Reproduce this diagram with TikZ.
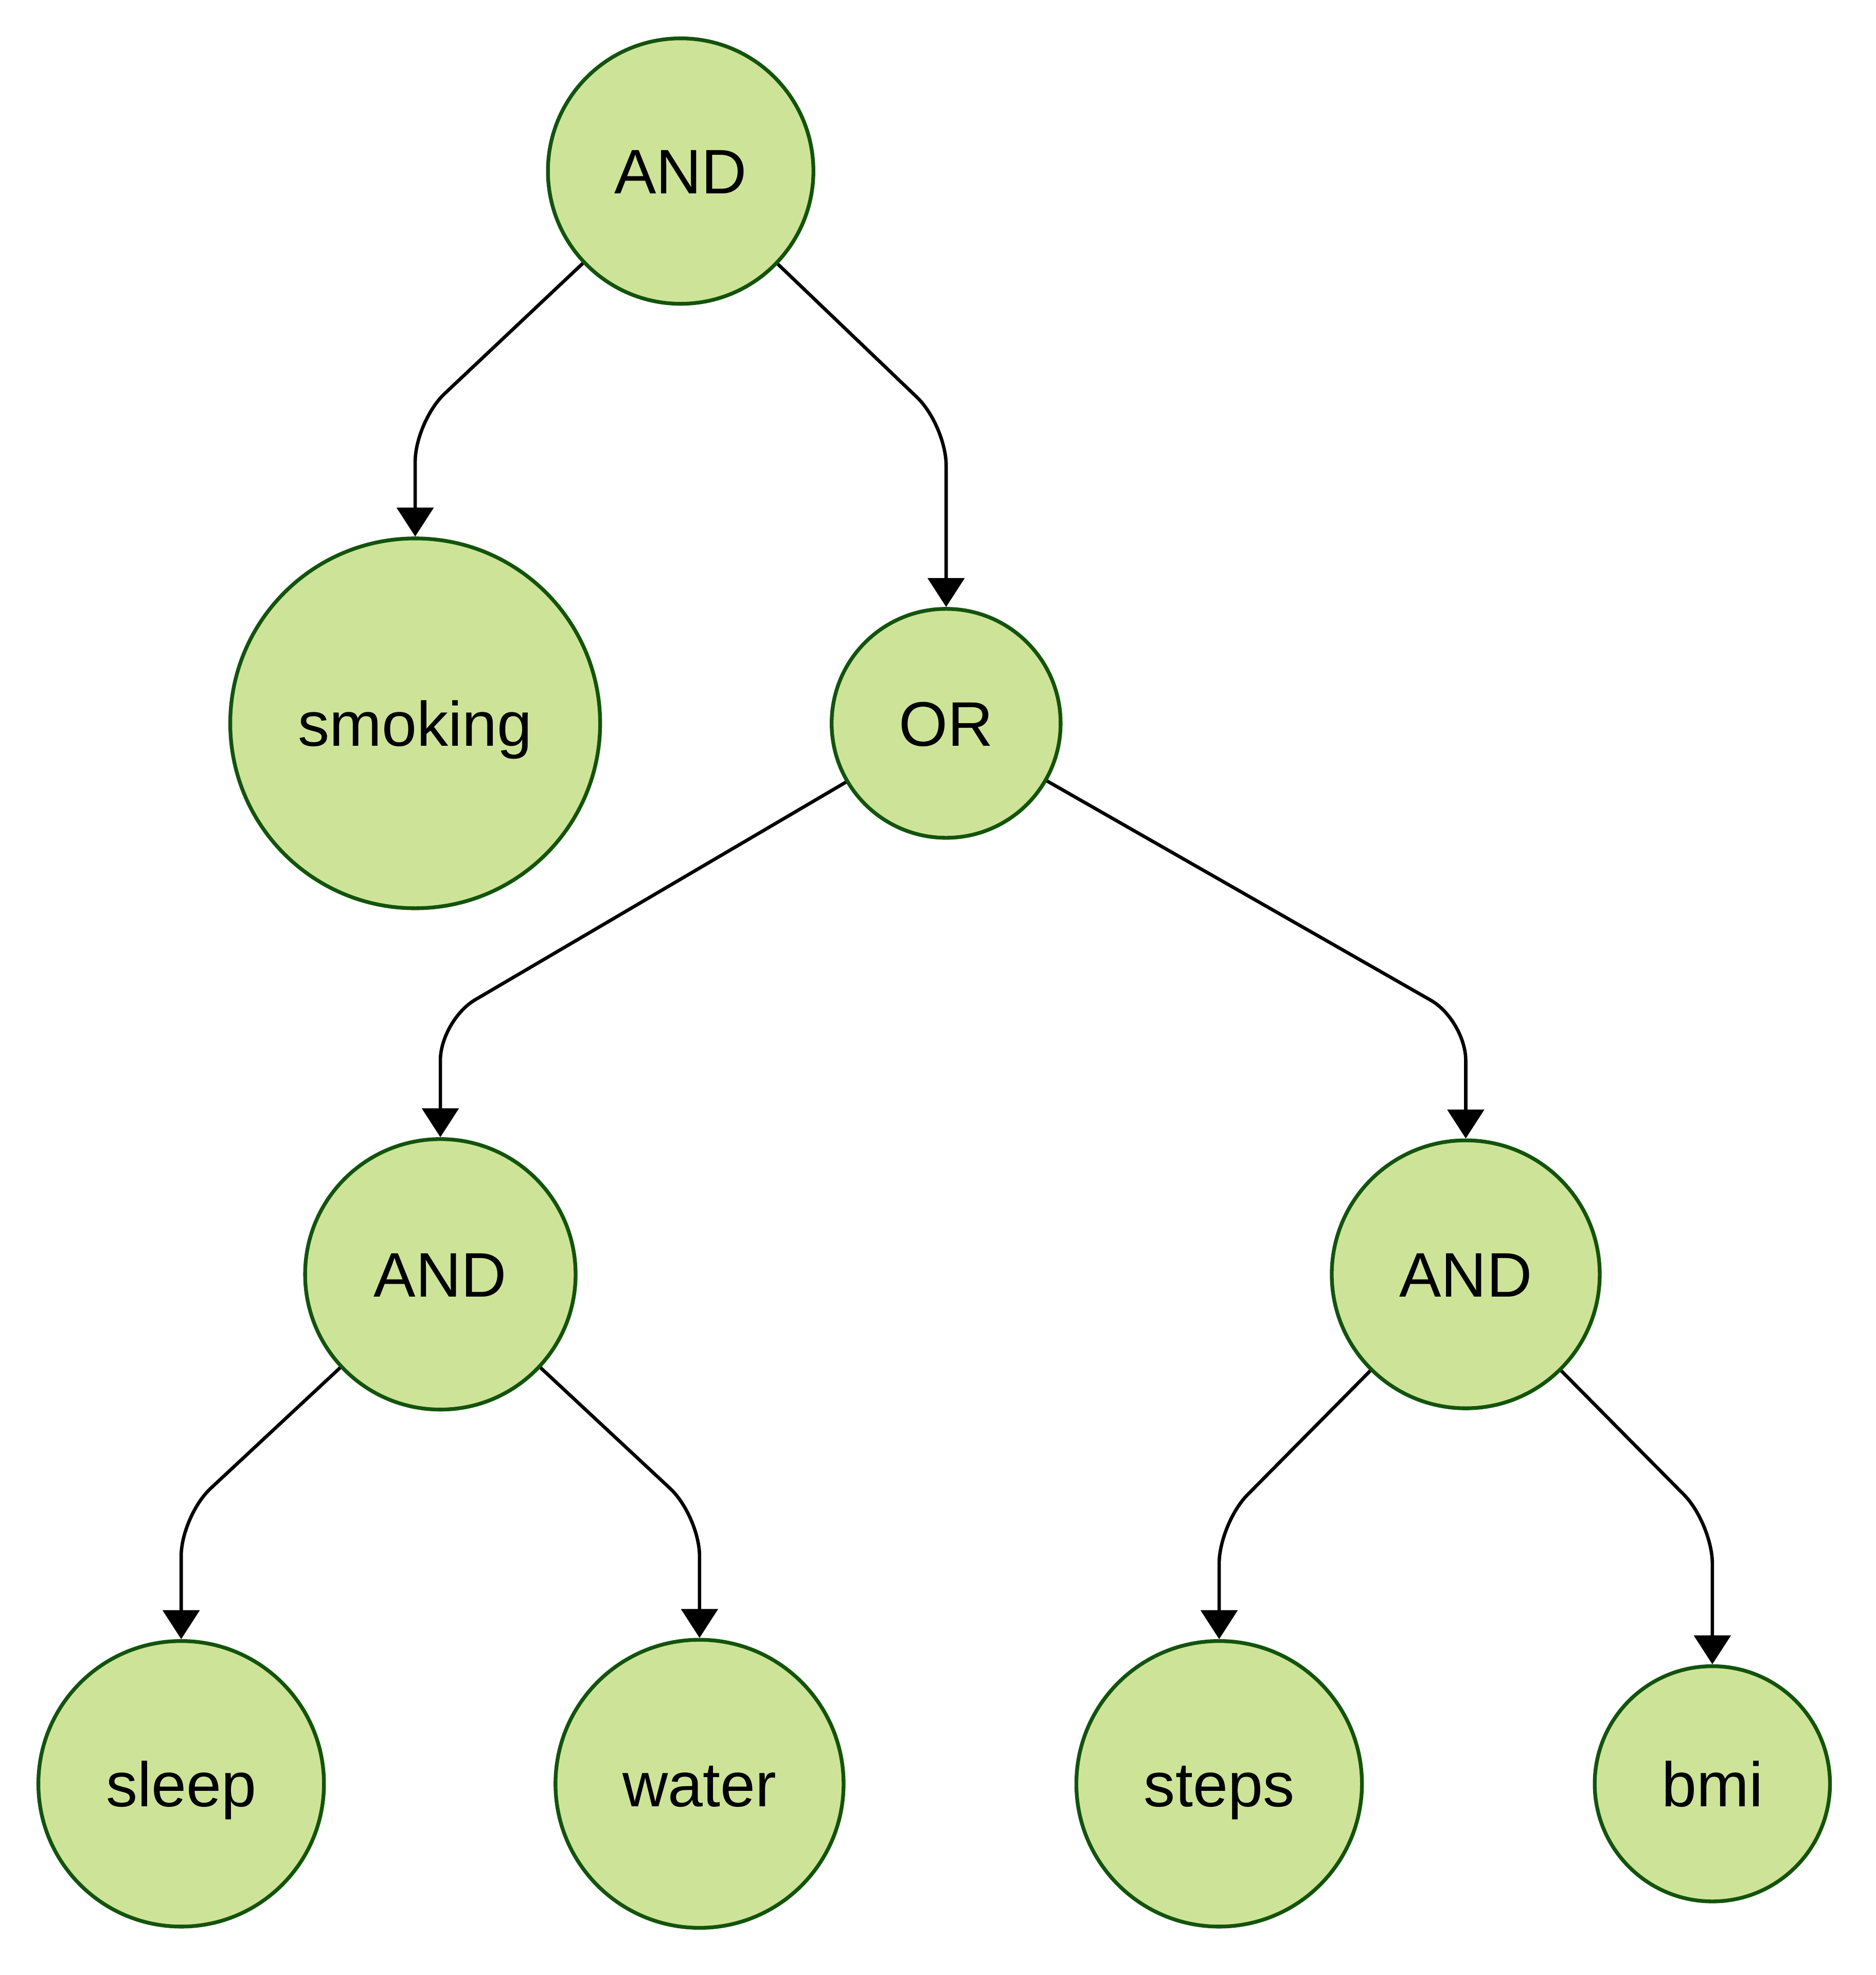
\documentclass[tikz,border=0pt]{standalone}
\usepackage{fontspec}
\setmainfont{Liberation Sans}
\usetikzlibrary{arrows.meta}

\definecolor{gateFill}{RGB}{205,228,152}
\definecolor{gateLine}{RGB}{19,84,12}

\tikzset{
  gate/.style={circle, draw=gateLine, fill=gateFill, line width=3pt, inner sep=0pt,
    font=\fontsize{50}{60}\selectfont, text height=47.5pt, text depth=11.5pt},
  link/.style={draw, line width=2.7pt, rounded corners=32pt,
    -{Triangle[width=29pt,length=23pt]}}
}

\begin{document}
\begin{tikzpicture}[x=1pt,y=-1pt]
  \useasboundingbox (0,0) rectangle (1490.7,1570);
  % Gates and leaves
  \node[gate, minimum size=211pt] (andTop) at (541,136) {AND};
  \node[gate, minimum size=294pt] (smoking) at (330,575) {smoking};
  \node[gate, minimum size=182pt] (orNode) at (752,575) {OR};
  \node[gate, minimum size=215pt] (andLeft) at (350,1013) {AND};
  \node[gate, minimum size=213pt] (andRight) at (1165,1013) {AND};
  \node[gate, minimum size=227pt] (sleep) at (144,1418) {sleep};
  \node[gate, minimum size=229pt] (water) at (556,1418) {water};
  \node[gate, minimum size=227pt] (steps) at (969,1418) {steps};
  \node[gate, minimum size=187pt] (bmi) at (1361,1418) {bmi};
  % Bends
  \coordinate (bendA) at (330,335);
  \coordinate (bendB) at (752,338);
  \coordinate (bendC) at (350,811);
  \coordinate (bendD) at (1165,811);
  \coordinate (bendE) at (144,1205);
  \coordinate (bendF) at (556,1205);
  \coordinate (bendG) at (969,1211);
  \coordinate (bendH) at (1361,1211);
  % Links
  \draw[link] (andTop) -- (bendA) -- (smoking);
  \draw[link] (andTop) -- (bendB) -- (orNode);
  \draw[link] (orNode) -- (bendC) -- (andLeft);
  \draw[link] (orNode) -- (bendD) -- (andRight);
  \draw[link] (andLeft) -- (bendE) -- (sleep);
  \draw[link] (andLeft) -- (bendF) -- (water);
  \draw[link] (andRight) -- (bendG) -- (steps);
  \draw[link] (andRight) -- (bendH) -- (bmi);
\end{tikzpicture}
\end{document}
